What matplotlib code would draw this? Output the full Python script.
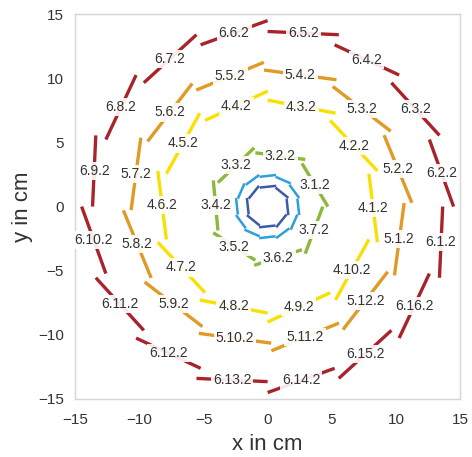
import matplotlib
matplotlib.use('Agg')
import matplotlib.pyplot as plt
import numpy as np

plt.rcParams['font.family'] = ['Liberation Sans', 'DejaVu Sans']

# ring geometry (cm / degrees)
ring_ids = [1, 2, 3, 4, 5, 6]
n_pads = [8, 12, 7, 10, 12, 16]
first_center_deg = [0.0, 0.0, 25.7, 0.0, -13.5, -11.25]
r_inner = [1.6, 2.4, 4.3, 8.3, 10.65, 13.65]
r_outer = [1.75, 2.55, 4.7, 9.0, 11.25, 14.5]
has_labels = [False, False, True, True, True, True]

ticks = [-15, -10, -5, 0, 5, 10, 15]

# styles
ring_colors = ['#3d5aa6', '#2b9fe0', '#8cb83c', '#f9e003', '#e09a25', '#a8232a']
ring_lw = [1.8, 1.8, 2.4, 2.4, 2.4, 2.4]
text_color = '#333333'


def main():
    fig = plt.figure(figsize=(4.72, 4.57), dpi=100)
    ax = fig.add_axes([0.159, 0.127, 0.816, 0.842])

    for ring, n, th0, ri, ro, lab, col, lw in zip(
            ring_ids, n_pads, first_center_deg, r_inner, r_outer,
            has_labels, ring_colors, ring_lw):
        step = 360.0 / n
        for k in range(n):
            tc = th0 + k * step
            a = np.deg2rad(tc + step / 2)
            b = np.deg2rad(tc - step / 2)
            xs = [ri * np.cos(a), ro * np.cos(b)]
            ys = [ri * np.sin(a), ro * np.sin(b)]
            ax.plot(xs, ys, color=col, lw=lw, solid_capstyle='butt', zorder=2)
            if lab:
                ax.text(np.mean(xs), np.mean(ys), f'{ring}.{k + 1}.2',
                        ha='center', va='center', fontsize=10,
                        color=text_color, zorder=3,
                        bbox=dict(boxstyle='square,pad=0.15', fc='white',
                                  ec='none', alpha=0.9))

    ax.set_xlim(-15, 15)
    ax.set_ylim(-15, 15)
    ax.set_aspect('equal')
    ax.set_xticks(ticks)
    ax.set_yticks(ticks)
    ax.tick_params(length=0, labelsize=11, colors=text_color)
    ax.tick_params(axis='x', pad=10)
    ax.tick_params(axis='y', pad=8)
    for sp in ax.spines.values():
        sp.set_color('#d6d6d6')
        sp.set_linewidth(1.0)
    ax.set_xlabel('x in cm', fontsize=16, color=text_color, labelpad=5)
    ax.set_ylabel('y in cm', fontsize=16, color=text_color, labelpad=4)

    plt.savefig('out.png', dpi=100)
    plt.close(fig)


if __name__ == "__main__":
    main()
